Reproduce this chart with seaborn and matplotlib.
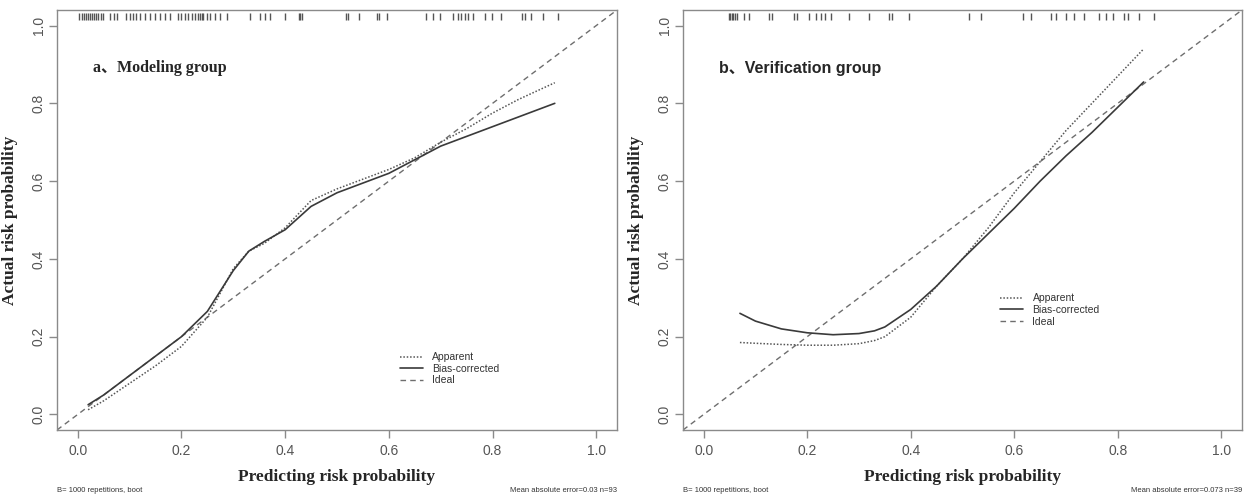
import numpy as np
import pandas as pd
import matplotlib
matplotlib.use("Agg")
import matplotlib.pyplot as plt
import matplotlib.transforms as mtransforms
import seaborn as sns

# ---------------- data ----------------
# Panel a (modeling group)
a_app_x = [0.02, 0.05, 0.10, 0.15, 0.20, 0.25, 0.30, 0.33, 0.36, 0.40, 0.45, 0.50, 0.55, 0.60, 0.65, 0.70, 0.75, 0.80, 0.85, 0.92]
a_app_y = [0.012, 0.035, 0.080, 0.125, 0.175, 0.250, 0.375, 0.420, 0.440, 0.480, 0.550, 0.580, 0.605, 0.630, 0.660, 0.700, 0.735, 0.775, 0.810, 0.853]
a_bc_x = [0.02, 0.05, 0.10, 0.15, 0.20, 0.25, 0.30, 0.33, 0.36, 0.40, 0.45, 0.50, 0.55, 0.60, 0.65, 0.70, 0.75, 0.80, 0.85, 0.92]
a_bc_y = [0.025, 0.050, 0.100, 0.150, 0.200, 0.265, 0.370, 0.420, 0.445, 0.475, 0.535, 0.570, 0.595, 0.620, 0.655, 0.690, 0.715, 0.740, 0.765, 0.800]
a_rug = [0.003, 0.008, 0.012, 0.016, 0.020, 0.024, 0.028, 0.032, 0.036, 0.040, 0.044, 0.049,
         0.062, 0.069, 0.075, 0.094, 0.100, 0.107, 0.113, 0.120,
         0.129, 0.139, 0.149, 0.158, 0.168, 0.178,
         0.194, 0.200, 0.207, 0.213, 0.220, 0.226, 0.232, 0.236, 0.239, 0.242, 0.249,
         0.255, 0.265, 0.275, 0.288, 0.332, 0.352, 0.361, 0.371, 0.400, 0.426, 0.429, 0.432,
         0.518, 0.522, 0.542, 0.578, 0.581, 0.597, 0.672, 0.685, 0.698, 0.724, 0.733,
         0.740, 0.746, 0.753, 0.762, 0.785, 0.798, 0.817, 0.856, 0.862, 0.875, 0.898, 0.926]
a_mae = "Mean absolute error=0.03 n=93"

# Panel b (verification group)
b_app_x = [0.07, 0.10, 0.15, 0.20, 0.25, 0.30, 0.33, 0.35, 0.40, 0.45, 0.50, 0.55, 0.60, 0.65, 0.70, 0.75, 0.80, 0.85]
b_app_y = [0.185, 0.183, 0.180, 0.178, 0.178, 0.182, 0.190, 0.200, 0.250, 0.330, 0.400, 0.480, 0.570, 0.650, 0.730, 0.800, 0.870, 0.940]
b_bc_x = [0.07, 0.10, 0.15, 0.20, 0.25, 0.30, 0.33, 0.35, 0.40, 0.45, 0.50, 0.55, 0.60, 0.65, 0.70, 0.75, 0.80, 0.85]
b_bc_y = [0.260, 0.240, 0.220, 0.210, 0.205, 0.208, 0.215, 0.225, 0.270, 0.330, 0.400, 0.465, 0.530, 0.600, 0.665, 0.725, 0.790, 0.855]
b_rug = [0.048, 0.051, 0.054, 0.057, 0.061, 0.064, 0.077, 0.087, 0.126, 0.132, 0.174, 0.180,
         0.203, 0.216, 0.226, 0.235, 0.245, 0.280, 0.319, 0.358, 0.364, 0.397, 0.513, 0.535,
         0.616, 0.632, 0.671, 0.680, 0.700, 0.716, 0.735, 0.764, 0.777, 0.790, 0.812, 0.819,
         0.841, 0.870]
b_mae = "Mean absolute error=0.073 n=39"

ticks = [0.0, 0.2, 0.4, 0.6, 0.8, 1.0]
tick_labels = ["0.0", "0.2", "0.4", "0.6", "0.8", "1.0"]
ideal = [-0.04, 1.04]
footnote_left = "B= 1000 repetitions, boot"

# ---------------- style ----------------
sns.set_style("white")
plt.rcParams['font.family'] = ['Liberation Sans', 'DejaVu Sans']

fig = plt.figure(figsize=(12.45, 4.97), dpi=100)
axA = fig.add_axes([57/1245, 67/497, 560/1245, 420/497])
axB = fig.add_axes([683/1245, 67/497, 559/1245, 420/497])

box_col = "#8a8a8a"
tick_col = "#555555"


def panel(ax, app_x, app_y, bc_x, bc_y, rug, title, title_family, mae, leg_anchor):
    sns.lineplot(x=ideal, y=ideal, ax=ax, color="#6e6e6e", lw=1.0,
                 linestyle=(0, (4, 3)), label="Ideal", zorder=2)
    sns.lineplot(x=app_x, y=app_y, ax=ax, color="#555555", lw=1.1,
                 linestyle=(0, (1, 1.2)), label="Apparent", zorder=3)
    sns.lineplot(x=bc_x, y=bc_y, ax=ax, color="#3a3a3a", lw=1.2,
                 linestyle="-", label="Bias-corrected", zorder=4)
    trans = mtransforms.blended_transform_factory(ax.transData, ax.transAxes)
    ax.vlines(rug, 0.976, 0.994, transform=trans, color="#555555", lw=1.0)

    ax.set_xlim(-0.04, 1.04)
    ax.set_ylim(-0.04, 1.04)
    ax.set_xticks(ticks)
    ax.set_xticklabels(tick_labels)
    ax.set_yticks(ticks)
    ax.set_yticklabels(tick_labels, rotation=90, va="center")
    ax.tick_params(axis="both", direction="out", length=6, width=1, color=box_col,
                   labelcolor=tick_col, labelsize=10, pad=2, bottom=True, left=True)
    ax.tick_params(axis="x", pad=4)
    for s in ax.spines.values():
        s.set_color(box_col)
        s.set_linewidth(1.0)

    ax.set_xlabel("Predicting risk probability", family=["Liberation Serif", "DejaVu Serif"],
                  fontweight="bold", fontsize=12.5)
    ax.set_ylabel("Actual risk probability", family=["Liberation Serif", "DejaVu Serif"],
                  fontweight="bold", fontsize=12.5)
    ax.xaxis.set_label_coords(0.5, -0.093)
    ax.yaxis.set_label_coords(-39 / 560, 0.5)

    ax.text(0.03, 0.89, title, family=title_family, fontweight="bold", fontsize=11.5,
            va="center", ha="left")

    # legend: order Apparent, Bias-corrected, Ideal
    h, l = ax.get_legend_handles_labels()
    order = [l.index("Apparent"), l.index("Bias-corrected"), l.index("Ideal")]
    ax.legend([h[i] for i in order], [l[i] for i in order], loc="upper left",
              bbox_to_anchor=leg_anchor, frameon=False, fontsize=7.5,
              handlelength=2.2, handletextpad=0.9, labelspacing=0.15,
              borderaxespad=0, labelcolor="#333333")

    ax.text(0.0, -0.145, footnote_left, transform=ax.transAxes, fontsize=5.5,
            color="#333333", ha="left", va="center")
    ax.text(1.0, -0.145, mae, transform=ax.transAxes, fontsize=5.5,
            color="#333333", ha="right", va="center")


panel(axA, a_app_x, a_app_y, a_bc_x, a_bc_y, a_rug, "a、Modeling group",
      ["Liberation Serif", "Noto Sans CJK SC"], a_mae, (0.605, 0.195))
panel(axB, b_app_x, b_app_y, b_bc_x, b_bc_y, b_rug, "b、Verification group",
      ["Liberation Sans", "Noto Sans CJK SC"], b_mae, (0.56, 0.335))

fig.savefig("out.png", dpi=100)
